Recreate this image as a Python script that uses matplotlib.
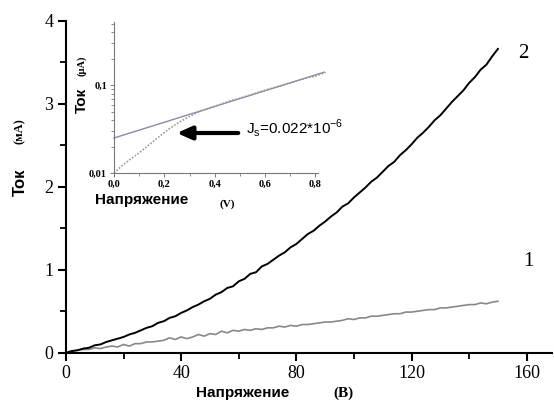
import matplotlib
matplotlib.use('Agg')
import matplotlib.pyplot as plt
from matplotlib.ticker import FixedLocator, FixedFormatter, MultipleLocator, LogLocator, NullFormatter

# main plot: current vs voltage, two samples
voltage = [0, 2, 4, 6, 8, 10, 12, 14, 16, 18, 20, 22, 24, 26, 28, 30, 32, 34, 36, 38,
           40, 42, 44, 46, 48, 50, 52, 54, 56, 58, 60, 62, 64, 66, 68, 70, 72, 74, 76, 78,
           80, 82, 84, 86, 88, 90, 92, 94, 96, 98, 100, 102, 104, 106, 108, 110, 112, 114,
           116, 118, 120, 122, 124, 126, 128, 130, 132, 134, 136, 138, 140, 142, 144, 146,
           148, 150]
current_2 = [0.00, 0.02, 0.03, 0.05, 0.06, 0.09, 0.10, 0.13, 0.15, 0.17, 0.19, 0.22, 0.24,
             0.27, 0.30, 0.32, 0.36, 0.38, 0.42, 0.44, 0.48, 0.51, 0.55, 0.58, 0.62, 0.65,
             0.70, 0.73, 0.78, 0.80, 0.86, 0.89, 0.95, 0.97, 1.04, 1.07, 1.12, 1.17, 1.21,
             1.27, 1.31, 1.37, 1.43, 1.47, 1.53, 1.58, 1.64, 1.69, 1.76, 1.80, 1.87, 1.93,
             1.99, 2.06, 2.11, 2.18, 2.25, 2.30, 2.38, 2.44, 2.51, 2.59, 2.65, 2.72, 2.80,
             2.86, 2.94, 3.02, 3.09, 3.16, 3.25, 3.32, 3.41, 3.47, 3.57, 3.66]
current_1 = [0.00, 0.02, 0.03, 0.04, 0.04, 0.06, 0.05, 0.07, 0.08, 0.07, 0.10, 0.08, 0.11,
             0.11, 0.13, 0.13, 0.14, 0.15, 0.18, 0.16, 0.19, 0.17, 0.19, 0.22, 0.20, 0.23,
             0.22, 0.26, 0.24, 0.27, 0.26, 0.28, 0.27, 0.29, 0.28, 0.30, 0.30, 0.32, 0.31,
             0.33, 0.32, 0.34, 0.34, 0.35, 0.36, 0.37, 0.37, 0.38, 0.39, 0.41, 0.40, 0.42,
             0.42, 0.44, 0.44, 0.45, 0.46, 0.47, 0.47, 0.49, 0.49, 0.50, 0.51, 0.52, 0.52,
             0.54, 0.54, 0.55, 0.56, 0.57, 0.58, 0.58, 0.60, 0.59, 0.61, 0.62]

# inset: log current at low voltage
inset_v = [0.0, 0.03, 0.06, 0.10, 0.14, 0.18, 0.22, 0.26, 0.30, 0.34, 0.38, 0.42, 0.46,
           0.50, 0.54, 0.58, 0.62, 0.66, 0.70, 0.74, 0.78, 0.80, 0.82, 0.84]
inset_i = [0.010, 0.012, 0.014, 0.017, 0.021, 0.026, 0.032, 0.038, 0.044, 0.050, 0.055,
           0.060, 0.066, 0.071, 0.077, 0.084, 0.091, 0.098, 0.106, 0.115, 0.123, 0.126,
           0.133, 0.138]
fit_v = [0.0, 0.835]
fit_i = [0.025, 0.14]

serif = 'Liberation Serif'
sans = 'Liberation Sans'

fig = plt.figure(figsize=(5.54, 4.05), dpi=100)

ax = fig.add_axes([0.119, 0.129, 0.877, 0.820])
ax.plot(voltage, current_1, color='#888888', lw=1.2)
ax.plot(voltage, current_2, color='black', lw=1.4)
ax.set_xlim(0, 168.7)
ax.set_ylim(0, 4)
for s in ['top', 'right']:
    ax.spines[s].set_visible(False)
for s in ['left', 'bottom']:
    ax.spines[s].set_linewidth(1.5)
ax.xaxis.set_major_locator(MultipleLocator(40))
ax.xaxis.set_minor_locator(MultipleLocator(20))
ax.yaxis.set_major_locator(MultipleLocator(1))
ax.yaxis.set_minor_locator(MultipleLocator(0.5))
ax.tick_params(which='major', length=6, width=1.5, direction='out', labelsize=13, pad=3)
ax.tick_params(which='minor', length=4, width=1.3, direction='out')
for lab in ax.get_xticklabels() + ax.get_yticklabels():
    lab.set_family(serif)

fig.text(523 / 554, 1 - 53 / 405, '2', family=serif, fontsize=15, ha='center', va='center')
fig.text(528 / 554, 1 - 262 / 405, '1', family=serif, fontsize=15, ha='center', va='center')

fig.text(20 / 554, 1 - 182 / 405, 'Ток', family=sans, fontweight='bold', fontsize=12,
         rotation=90, ha='center', va='center')
fig.text(20 / 554, 1 - 131 / 405, '(мА)', family=serif, fontweight='bold', fontsize=9,
         rotation=90, ha='center', va='center')
fig.text(243 / 554, 1 - 393 / 405, 'Напряжение', family=sans, fontweight='bold',
         fontsize=11, ha='center', va='center')
fig.text(343 / 554, 1 - 393 / 405, '(В)', family=serif, fontweight='bold',
         fontsize=11, ha='center', va='center')

# inset
ins = fig.add_axes([0.2058, 0.5728, 0.3682, 0.3728], facecolor='none')
ins.plot(fit_v, fit_i, color='#8a8aa8', lw=1.0, clip_on=False)
ins.plot(inset_v, inset_i, color='#999999', lw=1.2, linestyle=(0, (1, 1)), clip_on=False)
ins.set_yscale('log')
ins.set_xlim(0, 0.81)
ins.set_ylim(0.01, 0.52)
for s in ['top', 'right']:
    ins.spines[s].set_visible(False)
for s in ['left', 'bottom']:
    ins.spines[s].set_linewidth(0.8)
    ins.spines[s].set_color('#777777')
ins.yaxis.set_major_locator(FixedLocator([0.01, 0.1]))
ins.yaxis.set_major_formatter(FixedFormatter(['0,01', '0,1']))
ins.yaxis.set_minor_locator(LogLocator(base=10, subs=range(2, 10)))
ins.yaxis.set_minor_formatter(NullFormatter())
ins.xaxis.set_major_locator(FixedLocator([0.0, 0.2, 0.4, 0.6, 0.8]))
ins.xaxis.set_major_formatter(FixedFormatter(['0,0', '0,2', '0,4', '0,6', '0,8']))
ins.xaxis.set_minor_locator(MultipleLocator(0.1))
ins.tick_params(which='major', length=3, width=0.7, color='#777777', labelsize=7.5, pad=2)
ins.tick_params(which='minor', length=2, width=0.6, color='#777777')
for lab in ins.get_xticklabels() + ins.get_yticklabels():
    lab.set_family(serif)
    lab.set_fontweight('bold')

fig.text(82 / 554, 1 - 100 / 405, 'Ток', family=sans, fontweight='bold', fontsize=11,
         rotation=90, ha='center', va='center')
fig.text(82 / 554, 1 - 66 / 405, '(μA)', family=serif, fontweight='bold', fontsize=7.5,
         rotation=90, ha='center', va='center')
fig.text(142 / 554, 1 - 200 / 405, 'Напряжение', family=sans, fontweight='bold',
         fontsize=11, ha='center', va='center')
fig.text(227 / 554, 1 - 204 / 405, '(V)', family=serif, fontweight='bold',
         fontsize=8, ha='center', va='center')

fig.text(246 / 554, 1 - 128 / 405, r'J$_\mathregular{s}$=0.022*10$^{\mathregular{-6}}$',
         family=sans, fontsize=11, ha='left', va='center')
ax.annotate('', xy=(174 / 554, 1 - 133 / 405), xytext=(241 / 554, 1 - 133 / 405),
            xycoords='figure fraction', textcoords='figure fraction',
            arrowprops=dict(arrowstyle='-|>,head_length=0.9,head_width=0.4',
                            color='black', lw=3))

fig.savefig('out.png', dpi=100)
